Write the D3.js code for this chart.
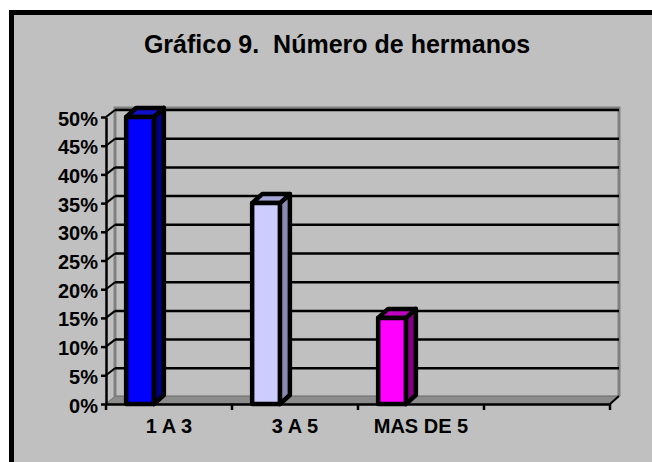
<!DOCTYPE html>
<html>
<head>
<meta charset="UTF-8">
<title>Gráfico 9</title>
<script src="https://cdn.jsdelivr.net/npm/d3@7"></script>
<style>
  html, body { margin: 0; background: #fff; overflow: hidden; }
  svg { display: block; }
  svg text { font-family: "Liberation Sans", Arial, sans-serif; font-weight: bold; fill: #000; white-space: pre; }
</style>
</head>
<body>
<svg id="chart" width="652" height="462"></svg>
<script>
// datos
var categories = ["1 A 3", "3 A 5", "MAS DE 5", ""];
var values = [0.50, 0.35, 0.15];
var yTicks = [0, 0.05, 0.10, 0.15, 0.20, 0.25, 0.30, 0.35, 0.40, 0.45, 0.50];
var title = "Gráfico 9.  Número de hermanos";

// colores: cara, lado, tapa
var faceColors = ["#0000ff", "#ccccff", "#ff00ff"];
var sideColors = ["#000080", "#8a8ab0", "#800080"];
var topColors  = ["#1010c8", "#a6a6d8", "#c000c0"];

var svg = d3.select("#chart");

// marco
svg.append("rect")
  .attr("x", 11.5).attr("y", 12.5)
  .attr("width", 700).attr("height", 500)
  .attr("fill", "#c0c0c0")
  .attr("stroke", "#000").attr("stroke-width", 5);

svg.append("text")
  .attr("x", 337).attr("y", 53)
  .attr("text-anchor", "middle")
  .attr("xml:space", "preserve")
  .style("font-size", "25px")
  .text(title);

var x = d3.scaleBand().domain(categories).range([106, 610]);
var y = d3.scaleLinear().domain([0, 0.5]).range([404, 117]);
var dx = 9, dy = -8;       // profundidad de la pared
var bdx = 10, bdy = -9;    // profundidad de las barras
var x0 = x.range()[0], x1 = x.range()[1], y0 = y(0);

// suelo
svg.append("polygon")
  .attr("points", [[x0, y0], [x1, y0], [x1 + dx, y0 + dy], [x0 + dx, y0 + dy]].join(" "))
  .attr("fill", "#8c8c8c")
  .attr("stroke", "#6a6a6a").attr("stroke-width", 1);

// pared del fondo
var wall = svg.append("g");
wall.append("path")
  .attr("d", "M" + (x0 + dx) + "," + (y0 + dy) + "V" + (y(0.5) + dy - 1) +
             "H" + (x1 + dx) + "V" + (y0 + dy))
  .attr("fill", "none")
  .attr("stroke", "#808080").attr("stroke-width", 3);

wall.selectAll("line.grid")
  .data(yTicks.slice(1))
  .join("line")
  .attr("class", "grid")
  .attr("x1", x0 + dx).attr("x2", x1 + dx)
  .attr("y1", function(d) { return y(d) + dy + 1; })
  .attr("y2", function(d) { return y(d) + dy + 1; })
  .attr("stroke", "#000").attr("stroke-width", 2.5);

// lineas de la pared lateral
wall.selectAll("line.side")
  .data(yTicks.slice(1))
  .join("line")
  .attr("class", "side")
  .attr("x1", x0).attr("y1", function(d) { return y(d); })
  .attr("x2", x0 + dx).attr("y2", function(d) { return y(d) + dy + 1; })
  .attr("stroke", "#000").attr("stroke-width", 2);

// eje Y
var yAxis = svg.append("g")
  .attr("transform", "translate(" + x0 + ",0)")
  .call(d3.axisLeft(y).tickValues(yTicks).tickFormat(d3.format(".0%"))
        .tickSize(5).tickSizeOuter(0).tickPadding(3));
yAxis.selectAll("path, line").attr("stroke", "#000").attr("stroke-width", 2.5);
yAxis.selectAll("text").style("font-size", "20px").attr("dy", "0.4em");

// eje X
var xAxis = svg.append("g")
  .attr("transform", "translate(0," + y0 + ")")
  .call(d3.axisBottom(x).tickSize(0).tickPadding(15));
xAxis.select(".domain").attr("stroke", "#000").attr("stroke-width", 2.5);
xAxis.selectAll("text").style("font-size", "20px");

svg.selectAll("line.xtick")
  .data(categories.map(function(c) { return x(c); }).concat([x1]))
  .join("line")
  .attr("class", "xtick")
  .attr("x1", function(d) { return d; }).attr("x2", function(d) { return d; })
  .attr("y1", y0).attr("y2", y0 + 6)
  .attr("stroke", "#000").attr("stroke-width", 2.5);
svg.append("line")
  .attr("x1", x1).attr("y1", y0).attr("x2", x1 + dx).attr("y2", y0 + dy)
  .attr("stroke", "#000").attr("stroke-width", 2);

// barras 3D
var bw = x.bandwidth() * 0.22, boff = x.bandwidth() * 0.16;
var bars = svg.selectAll("g.bar")
  .data(values)
  .join("g")
  .attr("class", "bar");

bars.each(function(v, i) {
  var g = d3.select(this);
  var bx = x(categories[i]) + boff, yv = y(v);
  g.append("polygon")
    .attr("points", [[bx + bw, y0], [bx + bw, yv], [bx + bw + bdx, yv + bdy], [bx + bw + bdx, y0 + bdy]].join(" "))
    .attr("fill", sideColors[i]);
  g.append("polygon")
    .attr("points", [[bx, yv], [bx + bdx, yv + bdy], [bx + bw + bdx, yv + bdy], [bx + bw, yv]].join(" "))
    .attr("fill", topColors[i]);
  g.append("rect")
    .attr("x", bx).attr("y", yv)
    .attr("width", bw).attr("height", y0 - yv)
    .attr("fill", faceColors[i]);
  g.selectAll("polygon, rect")
    .attr("stroke", "#000").attr("stroke-width", 4.5)
    .attr("stroke-linejoin", "round");
});
</script>
</body>
</html>
